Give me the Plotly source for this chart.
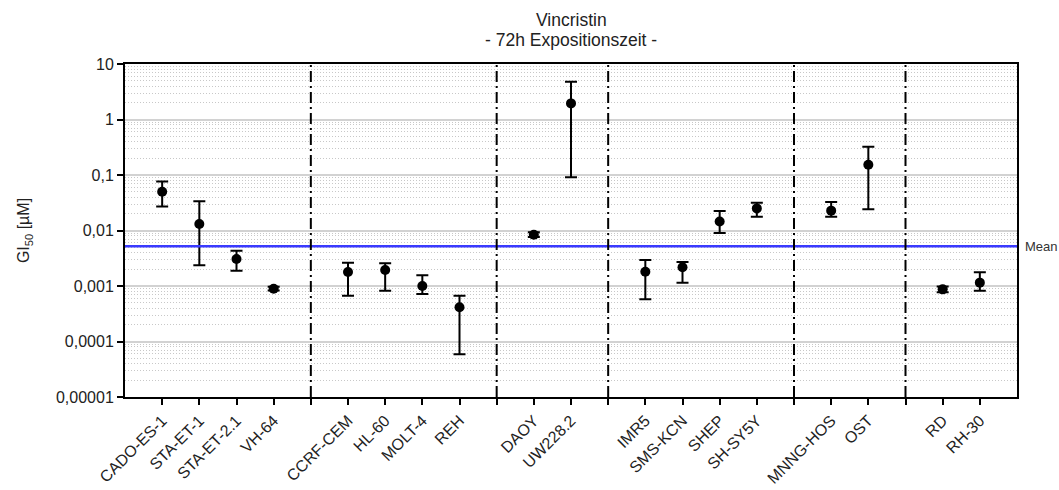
import math
import plotly.graph_objects as go

# ---- data ----
groups = [
    ["CADO-ES-1", "STA-ET-1", "STA-ET-2.1", "VH-64"],
    ["CCRF-CEM", "HL-60", "MOLT-4", "REH"],
    ["DAOY", "UW228.2"],
    ["IMR5", "SMS-KCN", "SHEP", "SH-SY5Y"],
    ["MNNG-HOS", "OST"],
    ["RD", "RH-30"],
]
gi50 = [0.050, 0.0131, 0.00306, 0.000895,
        0.00179, 0.00194, 0.00100, 0.000413,
        0.0084, 1.95,
        0.00181, 0.00217, 0.0145, 0.025,
        0.0228, 0.153,
        0.00087, 0.00115]
upper = [0.076, 0.0335, 0.00432, 0.00097,
         0.00263, 0.00257, 0.00156, 0.00067,
         0.0093, 4.8,
         0.00294, 0.00272, 0.0224, 0.0317,
         0.0326, 0.323,
         0.00098, 0.00177]
lower = [0.027, 0.00236, 0.00189, 0.00083,
         0.00067, 0.00082, 0.00072, 0.0000587,
         0.0076, 0.091,
         0.000575, 0.00115, 0.0090, 0.0177,
         0.0177, 0.0241,
         0.00077, 0.00082]
mean_value = 0.0052
y_tick_vals = [1e-5, 1e-4, 1e-3, 1e-2, 1e-1, 1, 10]
y_tick_text = ["0,00001", "0,0001", "0,001", "0,01", "0,1", "1", "10"]
title_lines = ["Vincristin", "- 72h Expositionszeit -"]

# ---- layout positions (groups separated by an empty slot) ----
cell_lines, xpos, separators = [], [], []
p = 1
for gi, g in enumerate(groups):
    for name in g:
        cell_lines.append(name)
        xpos.append(p)
        p += 1
    if gi < len(groups) - 1:
        separators.append(p)
        p += 1
x_max = p

tickvals = list(range(1, x_max))
ticktext = [cell_lines[xpos.index(t)] if t in xpos else "" for t in tickvals]

err_plus = [u - v for u, v in zip(upper, gi50)]
err_minus = [v - l for v, l in zip(gi50, lower)]

FONT = "Liberation Sans, Arial, sans-serif"

fig = go.Figure()
fig.add_trace(go.Scatter(
    x=xpos, y=gi50, mode="markers",
    marker=dict(color="black", size=10),
    error_y=dict(type="data", symmetric=False, array=err_plus, arrayminus=err_minus,
                 color="black", thickness=2, width=6),
    showlegend=False,
))

# mean line
fig.add_shape(type="line", xref="paper", x0=0, x1=1, yref="y", y0=mean_value, y1=mean_value,
              line=dict(color="#3a3aff", width=2.5), layer="above")
fig.add_annotation(xref="paper", x=1.007, yref="y", y=math.log10(mean_value), text="Mean",
                   showarrow=False, xanchor="left", yanchor="middle",
                   font=dict(size=13, color="#333", family=FONT))

# title (two centred lines)
for txt, yy in zip(title_lines, [1.132, 1.072]):
    fig.add_annotation(xref="paper", x=0.5, yref="paper", y=yy, text=txt, showarrow=False,
                       xanchor="center", yanchor="middle",
                       font=dict(size=17.5, color="#222", family=FONT))

# group separators
for s in separators:
    fig.add_shape(type="line", xref="x", x0=s, x1=s, yref="paper", y0=0, y1=1,
                  line=dict(color="black", width=2, dash="11px,4px,2px,4px"), layer="above")

fig.update_layout(
    width=1059, height=490,
    margin=dict(l=125, r=42, t=64, b=93),
    paper_bgcolor="white", plot_bgcolor="white",
    font=dict(family=FONT, size=16, color="#222"),
)
fig.update_xaxes(
    range=[0, x_max], tickvals=tickvals, ticktext=ticktext, tickangle=-45,
    ticks="outside", ticklen=6, tickwidth=2, tickcolor="black",
    showline=True, linecolor="black", linewidth=2, mirror=True,
    showgrid=False, zeroline=False, tickfont=dict(size=16), automargin=False,
)
fig.update_yaxes(
    type="log", range=[-5, 1], tickvals=y_tick_vals, ticktext=y_tick_text,
    ticks="outside", ticklen=6, tickwidth=2, tickcolor="black",
    showline=True, linecolor="black", linewidth=2, mirror=True,
    showgrid=True, gridcolor="#d2d2d2", gridwidth=2,
    minor=dict(dtick="D1", showgrid=True, gridcolor="#c8c8c8", griddash="1px,2px",
               gridwidth=1, ticks=""),
    title=dict(text="GI<sub>50</sub> [µM]", standoff=22, font=dict(size=16)),
    tickfont=dict(size=16), zeroline=False, automargin=False,
)

fig.write_html("out.html")
